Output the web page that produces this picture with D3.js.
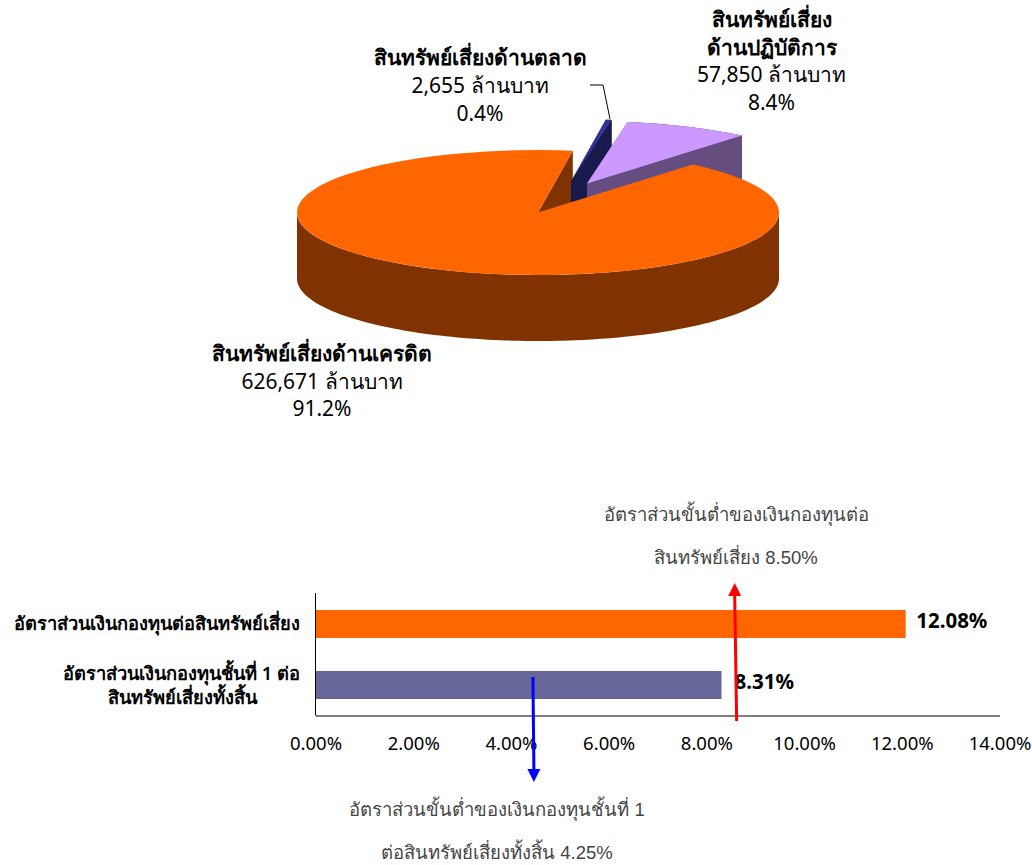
<!DOCTYPE html>
<html><head><meta charset="utf-8">
<script src="https://cdn.jsdelivr.net/npm/d3@7/dist/d3.min.js"></script>
<style>html,body{margin:0;padding:0;background:#fff}svg{display:block}text{font-family:"Noto Sans","DejaVu Sans",sans-serif}</style>
</head><body><svg id="c" width="1032" height="865"></svg>
<script>
// data
const pieNames = ["สินทรัพย์เสี่ยงด้านเครดิต","สินทรัพย์เสี่ยงด้านตลาด","สินทรัพย์เสี่ยงด้านปฏิบัติการ"];
const pieValues = [626671, 2655, 57850];
const piePercents = ["91.2%","0.4%","8.4%"];
const barCategories = ["อัตราส่วนเงินกองทุนต่อสินทรัพย์เสี่ยง","อัตราส่วนเงินกองทุนชั้นที่ 1 ต่อ|สินทรัพย์เสี่ยงทั้งสิ้น"];
const barValues = [12.08, 8.31];
const barTicks = [0,2,4,6,8,10,12,14];
const redArrowAt = [8.62, 8.58];
const blueArrowAt = [4.45, 4.47];

const svg = d3.select("#c");
const FONT = '"Noto Sans","DejaVu Sans",sans-serif';

// ---- pie
const cx=538, cy=212.5, rx=241, ry=62.5, depth=66, squash=ry/rx;
const startA = 40*Math.PI/180;
const slices = d3.pie().sort(null).startAngle(startA).endAngle(startA+2*Math.PI)(pieValues);
const arc = d3.arc().innerRadius(0).outerRadius(rx);
const pt=(a,dx,dy,d=0)=>[cx+dx+rx*Math.sin(a), cy+dy-ry*Math.cos(a)+d];
const line=d3.line();
const pieCols=[{top:"#ff6600",side:"#803300",off:[0,0]},{top:"#333399",side:"#1a1a4d",off:[33,-31]},{top:"#cc99ff",side:"#664d80",off:[49,-29]}];
function wall(p,q,c){ svg.append("path").attr("d",line([[p[0],p[1]],[q[0],q[1]],[q[0],q[1]+depth],[p[0],p[1]+depth]])+"Z").attr("fill",c); }
function topFace(s,c,off){ svg.append("path").attr("transform",`translate(${cx+off[0]},${cy+off[1]}) scale(1,${squash})`).attr("d",arc(s)).attr("fill",c); }
const cr=slices[0], mk=slices[1], op=slices[2];
wall([cx,cy],pt(cr.endAngle,0,0),pieCols[0].side);
[mk,op].forEach((s,i)=>{
  const c=pieCols[i+1], [dx,dy]=c.off, apex=[cx+dx,cy+dy];
  wall(apex,pt(s.startAngle,dx,dy),c.side);
  wall(apex,pt(s.endAngle,dx,dy),c.side);
  const a0=s.startAngle,a1=s.endAngle;
  const upper=d3.range(0,21).map(k=>pt(a0+(a1-a0)*k/20,dx,dy));
  const lower=upper.slice().reverse().map(p=>[p[0],p[1]+depth]);
  svg.append("path").attr("d",line(upper.concat(lower))+"Z").attr("fill",c.side);
  topFace(s,c.top,c.off);
});
{
  const a0=Math.PI/2,a1=3*Math.PI/2;
  const upper=d3.range(0,121).map(k=>pt(a0+(a1-a0)*k/120,0,0));
  const lower=upper.slice().reverse().map(p=>[p[0],p[1]+depth]);
  svg.append("path").attr("d",line(upper.concat(lower))+"Z").attr("fill",pieCols[0].side);
}
topFace(cr,pieCols[0].top,[0,0]);
svg.append("path").attr("d",line([[590,85],[603,85],[610,119]])).attr("fill","none").attr("stroke","#000").attr("stroke-width",1);

function label(lines,x,y,lh,size,weights,fill,family){
  lines.forEach((t,i)=>svg.append("text").attr("x",x).attr("y",y+i*lh).attr("text-anchor","middle")
    .attr("font-size",size).attr("font-weight",weights[i]||400).attr("fill",fill||"#000")
    .style("font-family",family||FONT).text(t));
}
const fmt=d3.format(",");
label([pieNames[0],fmt(pieValues[0])+" ล้านบาท",piePercents[0]],322,361,27.5,21,[700]);
label([pieNames[1],fmt(pieValues[1])+" ล้านบาท",piePercents[1]],480,65,28,21,[700]);
label(["สินทรัพย์เสี่ยง","ด้านปฏิบัติการ",fmt(pieValues[2])+" ล้านบาท",piePercents[2]],771.5,27,27.7,21,[700,700]);

// ---- bars
const x=d3.scaleLinear().domain([0,14]).range([315.5,999.5]);
const y=d3.scaleBand().domain(barCategories).range([594,715]).paddingInner(0.541).paddingOuter(0.2625);
const barCols=["#ff6600","#666699"];
svg.selectAll("rect.b").data(barValues).join("rect").attr("class","b")
  .attr("x",x(0)).attr("y",(d,i)=>y(barCategories[i])).attr("height",y.bandwidth())
  .attr("width",d=>x(d)-x(0)).attr("fill",(d,i)=>barCols[i]);
const axB=svg.append("g").attr("transform","translate(0,715.5)").call(d3.axisBottom(x).tickValues(barTicks).tickFormat(d=>d.toFixed(2)+"%").tickSize(0).tickPadding(21));
axB.selectAll("text").attr("font-size",18.5).attr("font-family",FONT).attr("fill","#000");
axB.select(".domain").attr("stroke","#000");
const axL=svg.append("g").attr("transform","translate(315.5,0)");
axL.append("line").attr("y1",593).attr("y2",715.5).attr("stroke","#000");
barCategories.forEach((c,i)=>{
  const parts=c.split("|"), m=y(c)+y.bandwidth()/2;
  parts.forEach((p,k)=>svg.append("text").attr("x",i?(k?257:300):300).attr("y",i?m+(k?19:-5):m+6).attr("text-anchor","end")
    .attr("font-size",18.3).attr("font-weight",600).text(p));
});
barValues.forEach((v,i)=>svg.append("text").attr("x",x(v)+(i?13:10.5)).attr("y",y(barCategories[i])+y.bandwidth()/2+4)
  .attr("font-size",20.5).attr("font-weight",700).text(v.toFixed(2)+"%"));

// ---- arrows
function arrow(at,y0,y1,col,hw,hl){
  const x0=x(at[0]),x1=x(at[1]), s=Math.sign(y1-y0);
  svg.append("line").attr("x1",x0).attr("y1",y0).attr("x2",x1).attr("y2",y1-s*hl).attr("stroke",col).attr("stroke-width",3);
  svg.append("path").attr("d",line([[x1,y1],[x1-hw,y1-s*hl],[x1+hw,y1-s*hl]])+"Z").attr("fill",col);
}
arrow(redArrowAt,721,583,"#ff0000",6.5,13);
arrow(blueArrowAt,677,782,"#0000ff",6.5,13);
const AF='"Liberation Sans","Noto Sans",sans-serif';
label(["อัตราส่วนขั้นต่ำของเงินกองทุนต่อ","สินทรัพย์เสี่ยง 8.50%"],736,521,43,18.5,[400,400],"#444",AF);
label(["อัตราส่วนขั้นต่ำของเงินกองทุนชั้นที่ 1","ต่อสินทรัพย์เสี่ยงทั้งสิ้น 4.25%"],497,816,43,18.5,[400,400],"#444",AF);
</script></body></html>
